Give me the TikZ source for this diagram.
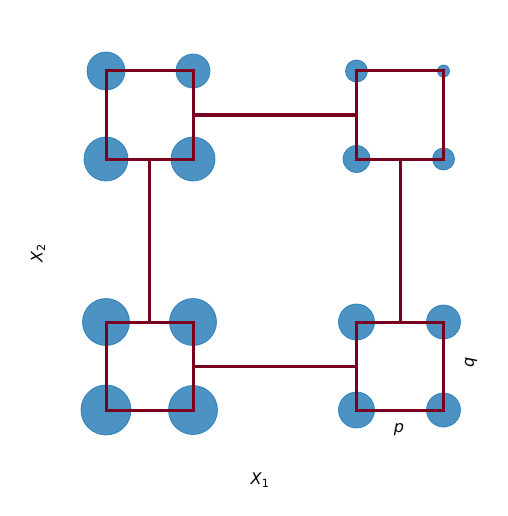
\documentclass[tikz,border=0pt]{standalone}
\usepackage{fontspec}
\setmainfont{DejaVu Sans}
\usetikzlibrary{backgrounds}
\definecolor{mplblue}{RGB}{31,119,180}
\definecolor{wire}{RGB}{122,0,32}
\tikzset{
  cell/.style={draw=wire, line width=3pt, rectangle, minimum width=87pt,
    minimum height=88pt, inner sep=0pt, outer sep=0pt},
  link/.style={draw=wire, line width=3pt},
  blob/.style={circle, fill=mplblue, fill opacity=0.8, draw=mplblue, draw opacity=0.8,
    line width=0.8pt, inner sep=0pt},
  axlbl/.style={font=\fontsize{16}{18}\selectfont, inner sep=0pt}
}
\begin{document}
\begin{tikzpicture}[x=1pt, y=-1pt]
  \useasboundingbox (0,0) rectangle (507,516);
  % cells
  \node[cell] (tl) at (149.5,115) {};
  \node[cell] (tr) at (400,115) {};
  \node[cell] (bl) at (149.5,366) {};
  \node[cell] (br) at (400,366) {};
  % corner blobs
  \begin{scope}[on background layer]
    \node[blob, minimum size=38pt] at (tl.north west) {};
    \node[blob, minimum size=34pt] at (tl.north east) {};
    \node[blob, minimum size=44pt] at (tl.south west) {};
    \node[blob, minimum size=44pt] at (tl.south east) {};
    \node[blob, minimum size=22pt] at (tr.north west) {};
    \node[blob, minimum size=12pt] at (tr.north east) {};
    \node[blob, minimum size=27pt] at (tr.south west) {};
    \node[blob, minimum size=22pt] at (tr.south east) {};
    \node[blob, minimum size=47pt] at (bl.north west) {};
    \node[blob, minimum size=47pt] at (bl.north east) {};
    \node[blob, minimum size=50pt] at (bl.south west) {};
    \node[blob, minimum size=49pt] at (bl.south east) {};
    \node[blob, minimum size=36pt] at (br.north west) {};
    \node[blob, minimum size=34pt] at (br.north east) {};
    \node[blob, minimum size=36pt] at (br.south west) {};
    \node[blob, minimum size=34pt] at (br.south east) {};
  \end{scope}
  % links
  \draw[link] (tl.east) -- (tr.west);
  \draw[link] (tl.south) -- (bl.north);
  \draw[link] (bl.east) -- (br.west);
  \draw[link] (tr.south) -- (br.north);
  % labels
  \node[axlbl] (xone) at (260,480) {\textit{X}\textsubscript{1}};
  \node[axlbl, rotate=90] (xtwo) at (38,253) {\textit{X}\textsubscript{2}};
  \node[axlbl] (plbl) at (399,430) {\textit{p}};
  \node[axlbl, rotate=90] (qlbl) at (471,362) {\textit{q}};
\end{tikzpicture}
\end{document}
